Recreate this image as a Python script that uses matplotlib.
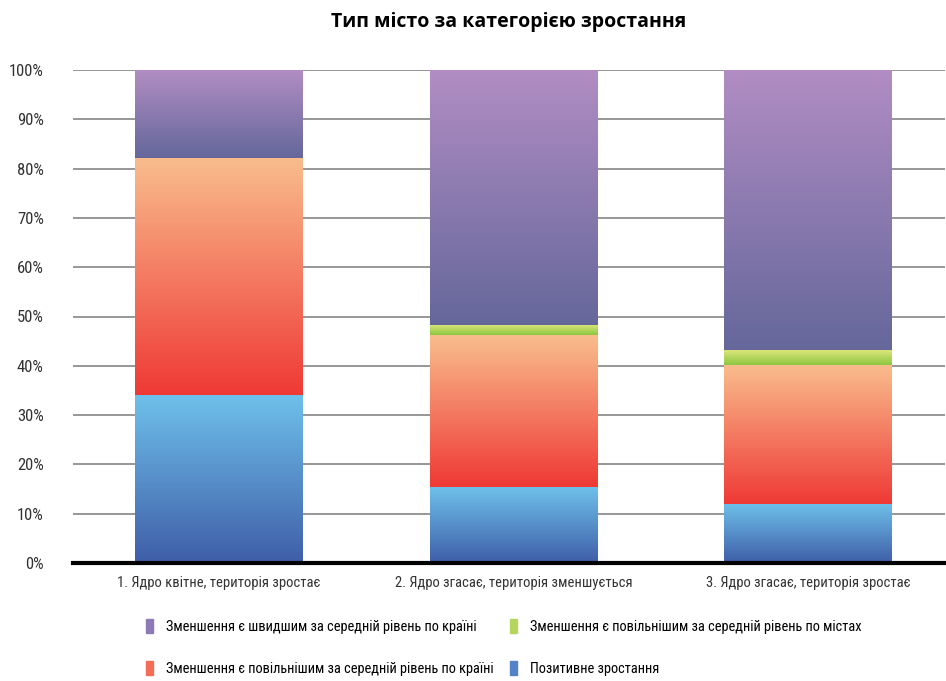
import numpy as np
import matplotlib.pyplot as plt
from matplotlib.patches import Patch
from matplotlib.colors import LinearSegmentedColormap

plt.rcParams['font.family'] = ['Roboto Condensed', 'Liberation Sans', 'DejaVu Sans']

# data (shares, %)
categories = ['1. Ядро квітне, територія зростає',
              '2. Ядро згасає, територія зменшується',
              '3. Ядро згасає, територія зростає']
positive = [34.0, 15.4, 12.0]
slower_country = [48.2, 30.8, 28.2]
slower_cities = [0.0, 2.1, 3.0]
faster_country = [17.8, 51.7, 56.8]

series = [
    (positive, 'Позитивне зростання', '#3f5ea8', '#6ec0ea'),
    (slower_country, 'Зменшення є повільнішим за середній рівень по країні', '#ef3935', '#f9bd8d'),
    (slower_cities, 'Зменшення є повільнішим за середній рівень по містах', '#8cc63f', '#dde67c'),
    (faster_country, 'Зменшення є швидшим за середній рівень по країні', '#65679b', '#b18dc3'),
]

fig = plt.figure(figsize=(9.46, 6.81), dpi=100)
ax = fig.add_axes([73 / 946, 118 / 681, 872 / 946, 493 / 681])

x = np.arange(len(categories))
width = 0.57
bottom = np.zeros(len(categories))
grad = np.linspace(0, 1, 256).reshape(-1, 1)
for vals, label, c_bot, c_top in series:
    cmap = LinearSegmentedColormap.from_list(label, [c_bot, c_top])
    bars = ax.bar(x, vals, width, bottom=bottom, color='none', edgecolor='none', zorder=3)
    for b in bars:
        if b.get_height() <= 0:
            continue
        x0, y0 = b.get_x(), b.get_y()
        im = ax.imshow(grad, cmap=cmap, origin='lower', aspect='auto',
                       extent=[x0, x0 + b.get_width(), y0, y0 + b.get_height()], zorder=3)
        im.set_clip_path(b)
    bottom += np.array(vals)

ax.set_xlim(-0.496, 2.465)
ax.set_ylim(0, 100)
ax.set_yticks(np.arange(0, 101, 10))
ax.set_yticklabels([f'{v}%' for v in range(0, 101, 10)], fontsize=12, color='#333333')
ax.set_xticks(x)
ax.set_xticklabels(categories, fontsize=10.5, color='#333333')
ax.tick_params(length=0, pad=9)
ax.tick_params(axis='y', pad=21)
ax.yaxis.grid(True, color='#7a7a7a', linewidth=1.1, zorder=0)
ax.set_axisbelow(True)
for s in ['top', 'right', 'left']:
    ax.spines[s].set_visible(False)
ax.spines['bottom'].set_linewidth(3)
ax.spines['bottom'].set_color('black')
ax.spines['bottom'].set_zorder(4)

ax.set_title('Тип місто за категорією зростання', fontsize=14, fontweight='bold',
             family=['Open Sans', 'DejaVu Sans'], pad=31)

handles = [Patch(color='#8e7bb5'), Patch(color='#f26d55'),
           Patch(color='#b4d65e'), Patch(color='#5482c8')]
labels = [series[3][1], series[1][1], series[2][1], series[0][1]]
fig.legend(handles, labels, ncol=2, loc='upper left',
           bbox_to_anchor=(146 / 946, (681 - 619) / 681),
           frameon=False, fontsize=10.4, borderpad=0, borderaxespad=0,
           handlelength=0.5, handleheight=1.1,
           handletextpad=0.9, labelspacing=1.9, columnspacing=1.1)

fig.savefig('out.png', dpi=100)
